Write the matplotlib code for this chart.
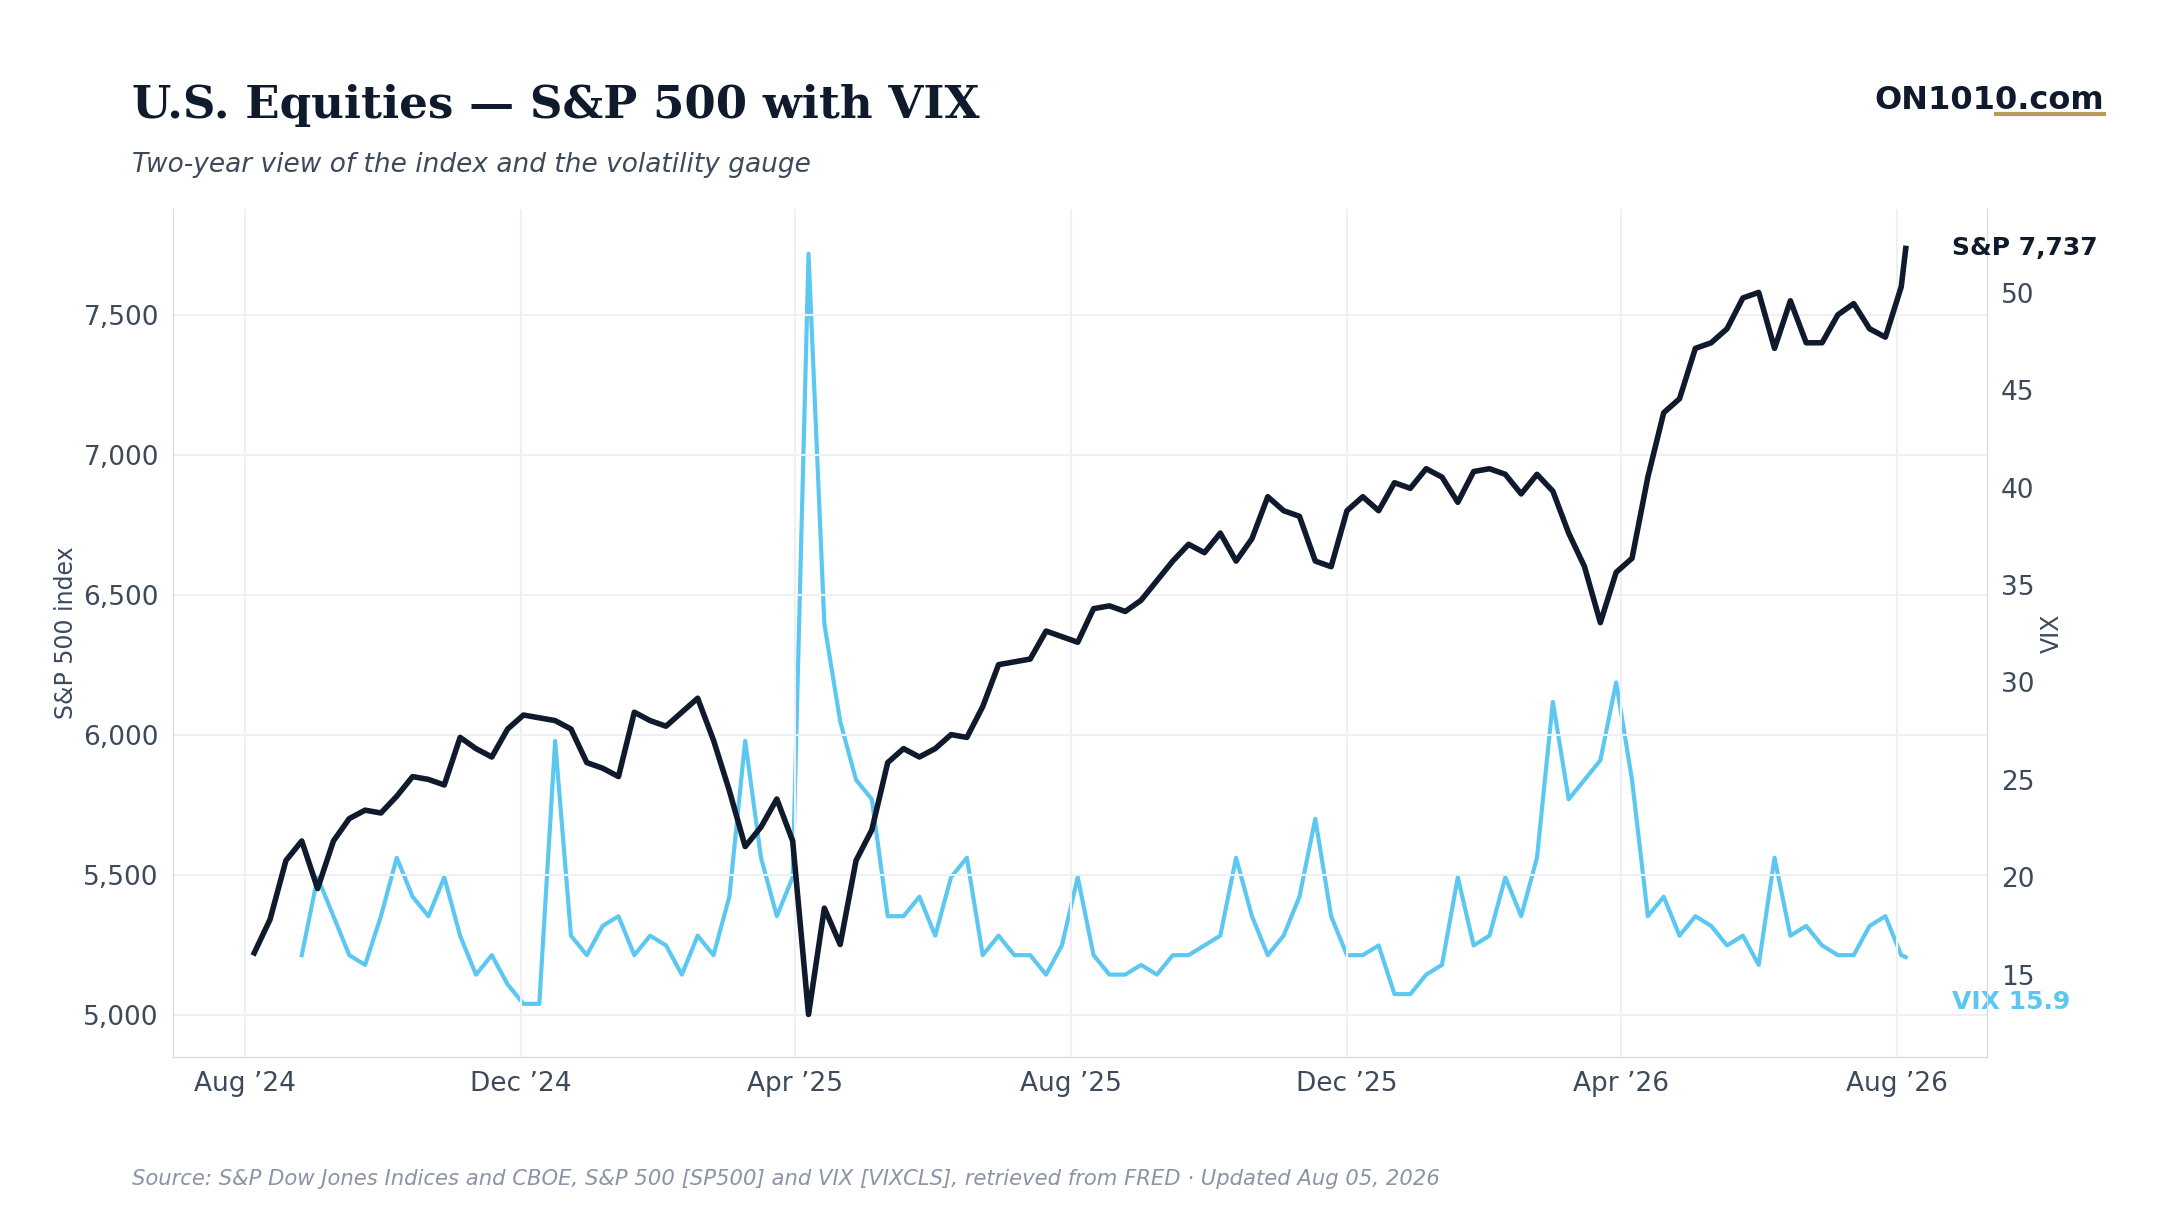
import matplotlib
matplotlib.use("Agg")
import matplotlib.pyplot as plt
import pandas as pd
import datetime as dt

# weekly (Mondays) observations plus last print on Aug 5, 2026
spx = [5220,5340,5550,5620,5450,5620,5700,5730,5720,5780,5850,5840,5820,5990,5950,5920,6020,6070,6060,6050,
       6020,5900,5880,5850,6080,6050,6030,6080,6130,5980,5800,5600,5670,5770,5620,5000,5380,5250,5550,5660,
       5900,5950,5920,5950,6000,5990,6100,6250,6260,6270,6370,6350,6330,6450,6460,6440,6480,6550,6620,6680,
       6650,6720,6620,6700,6850,6800,6780,6620,6600,6800,6850,6800,6900,6880,6950,6920,6830,6940,6950,6930,
       6860,6930,6870,6720,6600,6400,6580,6630,6920,7150,7200,7380,7400,7450,7560,7580,7380,7550,7400,7400,
       7500,7540,7450,7420,7600,7737]
vix = [16,20,18,16,15.5,18,21,19,18,20,17,15,16,14.5,13.5,13.5,27,17,16,17.5,18,16,17,16.5,15,17,16,19,27,21,
       18,20,52,33,28,25,24,18,18,19,17,20,21,16,17,16,16,15,16.5,20,16,15,15,15.5,15,16,16,16.5,17,21,
       18,16,17,19,23,18,16,16,16.5,14,14,15,15.5,20,16.5,17,20,18,21,29,24,25,26,30,25,18,19,17,18,17.5,
       16.5,17,15.5,21,17,17.5,16.5,16,16,17.5,18,16,15.9]
spx_dates = list(pd.date_range("2024-08-05", "2026-08-03", freq="7D")) + [pd.Timestamp("2026-08-05")]
vix_dates = list(pd.date_range("2024-08-26", "2026-08-03", freq="7D")) + [pd.Timestamp("2026-08-05")]
x_ticks = ["2024-08-01","2024-12-01","2025-04-01","2025-08-01","2025-12-01","2026-04-01","2026-08-01"]
x_labels = ["Aug \u201924","Dec \u201924","Apr \u201925","Aug \u201925","Dec \u201925","Apr \u201926","Aug \u201926"]

NAVY = "#0f1b2d"; CYAN = "#5cc8f2"; GREY = "#3d4a5c"
fig = plt.figure(figsize=(21.6, 12.15), dpi=100)
ax = fig.add_axes([0.080, 0.130, 0.840, 0.698])
ax2 = ax.twinx()
ax.set_zorder(ax2.get_zorder()+1); ax.patch.set_visible(False)

n = min(len(vix), len(vix_dates)); m = min(len(spx), len(spx_dates))
ax2.plot(vix_dates[:n], vix[:n], color=CYAN, lw=3)
ax.plot(spx_dates[:m], spx[:m], color=NAVY, lw=4)

ax.set_xlim(dt.date(2024,6,30), dt.date(2026,9,10))
ax.set_ylim(4848, 7878)
ax2.set_ylim(10.77, 54.3)
ax.set_xticks([pd.Timestamp(s) for s in x_ticks])
ax.set_xticklabels(x_labels)
ax.set_yticks([5000,5500,6000,6500,7000,7500])
ax.set_yticklabels([f"{v:,}" for v in [5000,5500,6000,6500,7000,7500]])
ax2.set_yticks([15,20,25,30,35,40,45,50])
for a in (ax, ax2):
    a.tick_params(length=0, labelsize=19, colors=GREY, pad=10)
    for s in a.spines.values(): s.set_color("#d5dae3")
    a.spines["top"].set_visible(False)
ax.grid(True, color="#eef0f4", lw=1.5)
ax.set_ylabel("S&P 500 index", fontsize=17, color=GREY)
ax2.set_ylabel("VIX", fontsize=17, color=GREY)

ax.annotate(f"S&P {spx[-1]:,}", xy=(1.0, spx[-1]), xycoords=("axes fraction","data"), xytext=(-25,0),
            textcoords="offset points", fontsize=18, fontweight="bold", color=NAVY, va="center")
ax2.annotate(f"VIX {vix[-1]}", xy=(1.0, 13.6), xycoords=("axes fraction","data"), xytext=(-25,0),
             textcoords="offset points", fontsize=18, fontweight="bold", color=CYAN, va="center")

fig.text(0.061, 0.913, "U.S. Equities \u2014 S&P 500 with VIX", fontsize=32.5, fontweight="bold",
         family="DejaVu Serif", color=NAVY, va="center")
fig.text(0.061, 0.864, "Two-year view of the index and the volatility gauge", fontsize=19,
         style="italic", color=GREY, va="center")
fig.text(0.974, 0.917, "ON1010.com", fontsize=23, fontweight="bold", color=NAVY, ha="right", va="center")
fig.add_artist(plt.Line2D([0.924, 0.974], [0.906, 0.906], color="#b89a5e", lw=3))
fig.text(0.061, 0.025, "Source: S&P Dow Jones Indices and CBOE, S&P 500 [SP500] and VIX [VIXCLS], retrieved from FRED \u00b7 Updated Aug 05, 2026",
         fontsize=15.2, style="italic", color="#8a94a6")
fig.savefig("out.png", dpi=100, facecolor="white")
